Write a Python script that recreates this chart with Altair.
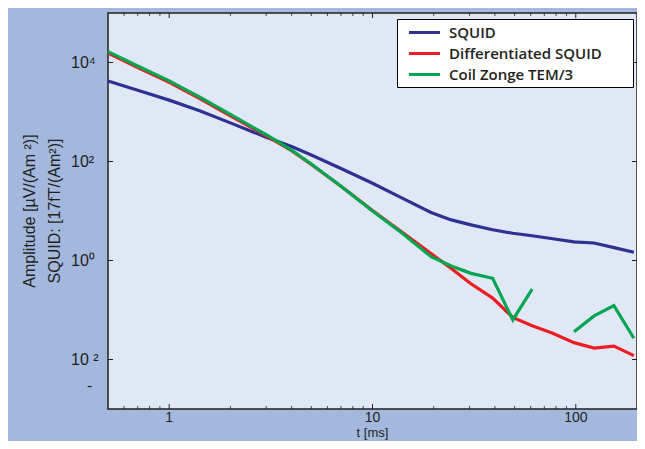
import altair as alt
import pandas as pd

# ---- data ----
t_ms = [0.5, 0.7, 1, 1.4, 2, 3, 4, 5, 7, 10, 14, 19.4, 24.4, 30.5, 39, 49, 61, 77, 98, 123, 154, 193]
squid = [4227, 2754, 1738, 1072, 603, 309, 200, 135, 72.4, 36.3, 18.2, 9.33, 6.61, 5.25, 4.17,
         3.55, 3.16, 2.75, 2.37, 2.26, 1.82, 1.47]
diff_squid = [15488, 7943, 3981, 1905, 832, 331, 166, 87.1, 31.6, 10.2, 3.72, 1.38, 0.692, 0.339,
              0.174, 0.0708, 0.0479, 0.0339, 0.0219, 0.0170, 0.0186, 0.0120]
coil = [16596, 8511, 4266, 2042, 891, 347, 170, 89.1, 31.6, 10.0, 3.55, 1.195, 0.776, 0.550,
        0.437, 0.0631, 0.263, None, 0.0363, 0.0759, 0.123, 0.0269]

series_names = ["SQUID", "Differentiated SQUID", "Coil Zonge TEM/3"]
series_colors = ["#2e3192", "#ed1c24", "#00a651"]

x_major = [1, 10, 100]
x_tick_labels = ["1", "10", "100"]
x_minor = [0.6, 0.7, 0.8, 0.9, 2, 3, 4, 5, 6, 7, 8, 9, 20, 30, 40, 50, 60, 70, 80, 90]
y_major = [1e4, 1e2, 1, 1e-2]
y_tick_labels = ["10\u2074", "10\u00b2", "10\u2070", "10 \u00b2"]
stray_minus = [{"v": 1e-2, "txt": "-"}]   # misplaced minus sign under the 10^-2 label
x_title = "t [ms]"
y_title = ["Amplitude [\u00b5V/(Am \u00b2)]", "SQUID: [17fT/(Am\u00b2)]"]

# ---- build tables ----
rows = []
for name, vals in zip(series_names, [squid, diff_squid, coil]):
    seg = 0
    for t, v in zip(t_ms, vals):
        if v is None:
            seg += 1
            continue
        rows.append({"t": t, "v": v, "series": name, "seg": f"{name}-{seg}"})
df = pd.DataFrame(rows)

xmaj = pd.DataFrame({"t": x_major, "lab": x_tick_labels})
xmin = pd.DataFrame({"t": x_minor})
ymaj = pd.DataFrame({"v": y_major, "lab": y_tick_labels})

FONT = "Liberation Sans"
TXT = "#231f20"
W, H = 529, 396

xs = alt.Scale(type="log", domain=[0.5, 200], nice=False)
ys = alt.Scale(type="log", domain=[1e-3, 1e5], nice=False)

# trailing no-break spaces (kept by a zero-width space) widen the legend box
legend_pad = "\u00a0" * 7 + "\u200b"

lines = alt.Chart(df).mark_line(strokeWidth=3.2).encode(
    x=alt.X("t:Q", scale=xs, axis=None),
    y=alt.Y("v:Q", scale=ys, axis=None),
    color=alt.Color("series:N", scale=alt.Scale(domain=series_names, range=series_colors),
                    legend=alt.Legend(title=None, orient="none", legendX=289, legendY=6,
                                      symbolType="M-2,0H2", symbolSize=240, symbolStrokeWidth=3,
                                      symbolOffset=14, labelOffset=15, labelLimit=500,
                                      labelFont="Open Sans", labelFontSize=15, labelFontWeight=600,
                                      labelColor=TXT, fillColor="white", strokeColor="black",
                                      padding=4, rowPadding=3,
                                      labelExpr="datum.label + '" + legend_pad + "'")),
    detail="seg:N",
    order="t:Q",
)

# tick labels and titles drawn as text marks positioned by the same scales
xlab = alt.Chart(xmaj).mark_text(font=FONT, fontSize=14, color=TXT, align="center", baseline="top").encode(
    x=alt.X("t:Q", scale=xs, axis=None), y=alt.value(H + 2), text="lab:N")
ylab = alt.Chart(ymaj).mark_text(font=FONT, fontSize=16, color=TXT, align="left", baseline="middle").encode(
    y=alt.Y("v:Q", scale=ys, axis=None), x=alt.value(-37), text="lab:N")
minus = alt.Chart(pd.DataFrame(stray_minus)).mark_text(
    font=FONT, fontSize=16, color=TXT, align="left", baseline="middle", dy=26
).encode(y=alt.Y("v:Q", scale=ys, axis=None), x=alt.value(-21), text="txt:N")

xtitle = alt.Chart(pd.DataFrame({"txt": [x_title]})).mark_text(
    font=FONT, fontSize=13, color=TXT, align="center", baseline="top"
).encode(x=alt.value(W / 2), y=alt.value(H + 18), text="txt:N")
ytitle1 = alt.Chart(pd.DataFrame({"txt": [y_title[0]]})).mark_text(
    font=FONT, fontSize=16, color=TXT, align="center", baseline="alphabetic", angle=270
).encode(x=alt.value(-73), y=alt.value(H / 2), text="txt:N")
ytitle2 = alt.Chart(pd.DataFrame({"txt": [y_title[1]]})).mark_text(
    font=FONT, fontSize=16, color=TXT, align="center", baseline="alphabetic", angle=270
).encode(x=alt.value(-48), y=alt.value(H / 2), text="txt:N")

def xtick(data, y0, y1, w=1):
    return alt.Chart(data).mark_rule(color=TXT, strokeWidth=w).encode(
        x=alt.X("t:Q", scale=xs, axis=None), y=alt.value(y0), y2=alt.value(y1))

def ytick(x0, x1):
    return alt.Chart(ymaj).mark_rule(color=TXT, strokeWidth=1).encode(
        y=alt.Y("v:Q", scale=ys, axis=None), x=alt.value(x0), x2=alt.value(x1))

chart = alt.layer(
    lines,
    xtick(xmin, H, H - 3, 0.8), xtick(xmaj, H, H - 5),
    xtick(xmin, 0, 3, 0.8), xtick(xmaj, 0, 5),
    ytick(0, 5), ytick(W, W - 5),
    xlab, ylab, minus, xtitle, ytitle1, ytitle2,
).properties(
    width=W, height=H,
    autosize=alt.AutoSizeParams(type="none"),
    padding={"left": 100, "top": 5, "right": 0, "bottom": 32},
    background="#a4b8de",
).configure_view(fill="#e1e8f5", stroke=TXT, strokeWidth=1.5)

chart.save("out.html", embed_options={"renderer": "svg", "actions": False})
